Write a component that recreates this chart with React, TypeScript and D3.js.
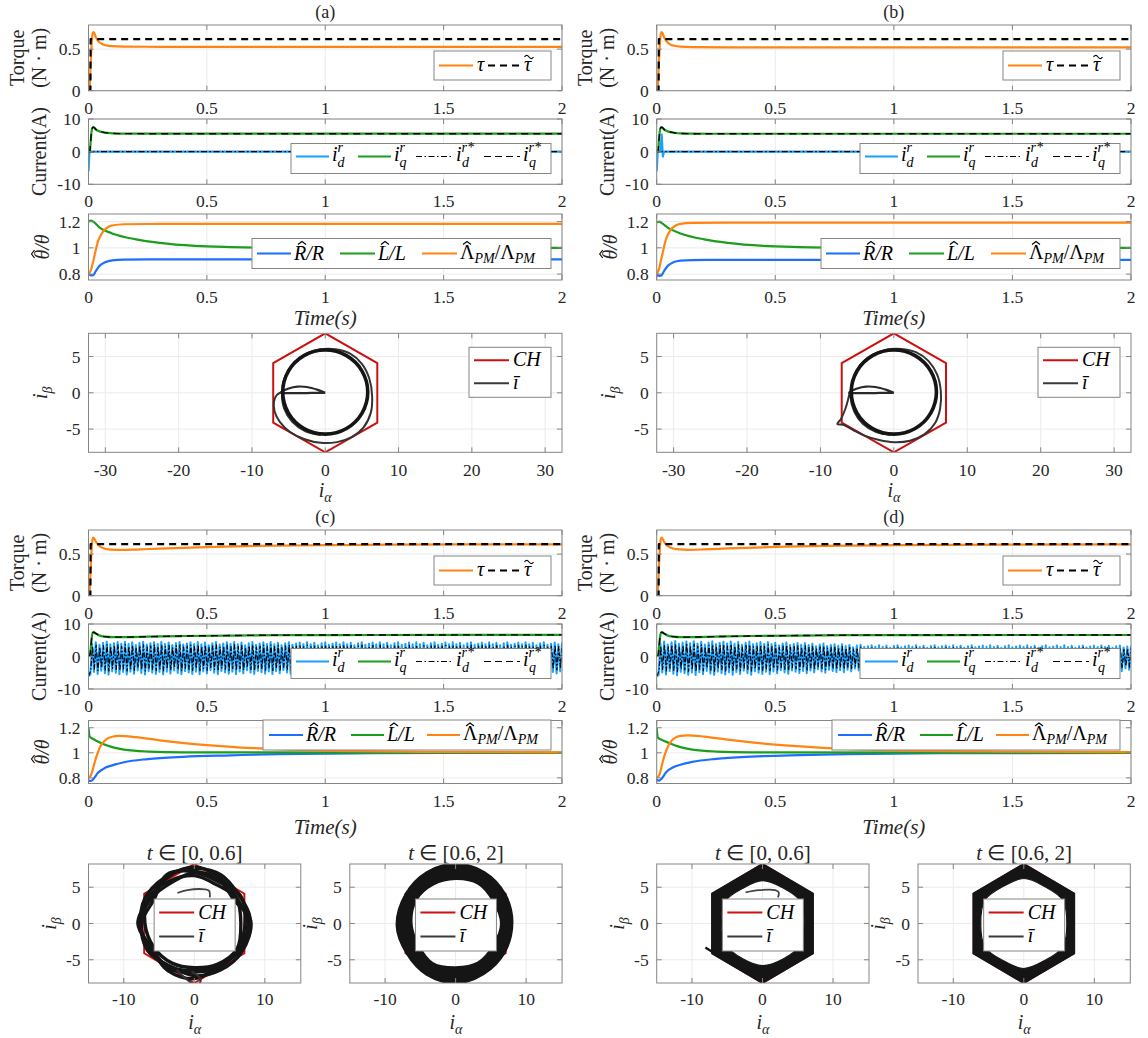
import React from 'react';
import * as d3 from 'd3';

type P = [number, number];

// ---------------- ticks / labels ----------------
const timeTicks = [0, 0.5, 1, 1.5, 2];
const torqueTicks = [0, 0.5];
const currentTicks = [-10, 0, 10];
const thetaTicks = [0.8, 1, 1.2];
const bigXTicks = [-30, -20, -10, 0, 10, 20, 30];
const trajYTicks = [-5, 0, 5];
const smallXTicks = [-10, 0, 10];
const panelLabels = ['(a)', '(b)', '(c)', '(d)'];
const smallTitles = ['[0, 0.6]', '[0.6, 2]'];

// ---------------- domains ----------------
const timeDomain: P = [0, 2];
const torqueDomain: P = [0, 0.79];
const currentDomain: P = [-10, 10];
const thetaDomain: P = [0.755, 1.258];
const bigXDomain: P = [-32.3, 32.3];
const trajYDomain: P = [-8.2, 8.2];
const smallXDomain: P = [-15, 15.1];

// ---------------- torque ----------------
const tauA: P[] = [[0, 0], [0.004, 0.02], [0.008, 0.25], [0.012, 0.5], [0.016, 0.66], [0.02, 0.705], [0.025, 0.69], [0.03, 0.65], [0.04, 0.6], [0.055, 0.565], [0.075, 0.545], [0.1, 0.535], [0.15, 0.53], [0.3, 0.528], [1, 0.528], [2, 0.528]];
const tauB: P[] = [[0, 0], [0.004, 0.02], [0.008, 0.25], [0.012, 0.5], [0.016, 0.66], [0.02, 0.705], [0.025, 0.69], [0.03, 0.65], [0.04, 0.6], [0.055, 0.56], [0.075, 0.54], [0.1, 0.53], [0.15, 0.525], [0.3, 0.522], [1, 0.522], [2, 0.522]];
const tauC: P[] = [[0, 0], [0.004, 0.02], [0.008, 0.25], [0.012, 0.5], [0.016, 0.66], [0.02, 0.7], [0.025, 0.685], [0.03, 0.655], [0.045, 0.6], [0.07, 0.565], [0.1, 0.553], [0.14, 0.55], [0.2, 0.555], [0.3, 0.567], [0.5, 0.585], [0.7, 0.598], [1, 0.608], [1.3, 0.614], [1.6, 0.617], [2, 0.618]];
const tauD: P[] = [[0, 0], [0.004, 0.02], [0.008, 0.25], [0.012, 0.5], [0.016, 0.66], [0.02, 0.7], [0.025, 0.685], [0.03, 0.655], [0.045, 0.6], [0.07, 0.567], [0.1, 0.556], [0.13, 0.552], [0.2, 0.557], [0.3, 0.568], [0.5, 0.586], [0.7, 0.598], [1, 0.607], [1.5, 0.614], [2, 0.617]];
const tauRefA: P[] = [[0, 0], [0.008, 0], [0.009, 0.62], [2, 0.62]];
const tauRefB: P[] = [[0, 0], [0.008, 0], [0.009, 0.62], [2, 0.62]];
const tauRefC: P[] = [[0, 0], [0.008, 0], [0.009, 0.62], [2, 0.62]];
const tauRefD: P[] = [[0, 0], [0.008, 0], [0.009, 0.62], [2, 0.62]];

// ---------------- currents ----------------
const idA: P[] = [[0, -6], [0.002, -3], [0.004, -0.3], [0.006, 0], [2, 0]];
const idB: P[] = [[0, -6], [0.002, -3], [0.004, 0], [0.015, 0], [0.018, 2], [0.021, 5.2], [0.024, 1], [0.026, -1.5], [0.029, -0.5], [0.032, 0], [2, 0]];
const idRefA: P[] = [[0, 0], [2, 0]];
const idRefB: P[] = [[0, 0], [2, 0]];
const iqA: P[] = [[0, 0], [0.006, 0], [0.008, 2], [0.012, 5.5], [0.016, 7.2], [0.02, 7.5], [0.025, 7.3], [0.03, 6.9], [0.04, 6.4], [0.06, 6], [0.08, 5.75], [0.1, 5.6], [0.15, 5.52], [0.3, 5.5], [2, 5.5]];
const iqRefA: P[] = [[0, 0], [0.006, 0], [0.008, 2], [0.012, 5.5], [0.016, 7.2], [0.02, 7.5], [0.025, 7.3], [0.03, 6.9], [0.04, 6.4], [0.06, 6], [0.08, 5.75], [0.1, 5.6], [0.15, 5.52], [0.3, 5.5], [2, 5.5]];
const iqB: P[] = [[0, 0], [0.006, 0], [0.008, 2], [0.012, 5.5], [0.016, 7.2], [0.02, 7.5], [0.025, 7.3], [0.03, 6.9], [0.04, 6.4], [0.06, 6], [0.08, 5.72], [0.1, 5.58], [0.15, 5.5], [0.3, 5.48], [2, 5.48]];
const iqRefB: P[] = [[0, 0], [0.006, 0], [0.008, 2], [0.012, 5.5], [0.016, 7.2], [0.02, 7.5], [0.025, 7.3], [0.03, 6.9], [0.04, 6.4], [0.06, 6], [0.08, 5.72], [0.1, 5.58], [0.15, 5.5], [0.3, 5.48], [2, 5.48]];
const iqC: P[] = [[0, 0], [0.006, 0.5], [0.01, 3], [0.014, 6], [0.018, 7.3], [0.022, 7.5], [0.03, 7.1], [0.045, 6.5], [0.07, 6.1], [0.1, 5.95], [0.15, 5.95], [0.25, 6.1], [0.4, 6.3], [0.6, 6.45], [0.8, 6.55], [1.2, 6.62], [2, 6.65]];
const iqRefC: P[] = [[0, 0], [0.006, 0.5], [0.01, 3], [0.014, 6], [0.018, 7.3], [0.022, 7.5], [0.03, 7.1], [0.045, 6.5], [0.07, 6.1], [0.1, 5.95], [0.15, 5.95], [0.25, 6.1], [0.4, 6.3], [0.6, 6.45], [0.8, 6.55], [1.2, 6.62], [2, 6.65]];
const iqD: P[] = [[0, 0], [0.006, 0.5], [0.01, 3], [0.014, 6], [0.018, 7.3], [0.022, 7.5], [0.03, 7.1], [0.045, 6.5], [0.07, 6.1], [0.1, 5.95], [0.15, 5.97], [0.25, 6.12], [0.4, 6.3], [0.6, 6.45], [0.8, 6.55], [1.2, 6.6], [2, 6.62]];
const iqRefD: P[] = [[0, 0], [0.006, 0.5], [0.01, 3], [0.014, 6], [0.018, 7.3], [0.022, 7.5], [0.03, 7.1], [0.045, 6.5], [0.07, 6.1], [0.1, 5.95], [0.15, 5.97], [0.25, 6.12], [0.4, 6.3], [0.6, 6.45], [0.8, 6.55], [1.2, 6.6], [2, 6.62]];
// oscillating i_d envelopes (c), (d)
const idUpperC: P[] = [[0, -6], [0.006, 4.6], [0.3, 4.5], [1, 4.4], [2, 4.4]];
const idLowerC: P[] = [[0, -6], [0.006, -5.6], [0.3, -5.5], [1, -5.3], [2, -5.3]];
const idUpperD: P[] = [[0, -6], [0.006, 4.8], [0.4, 4.6], [0.7, 4], [0.9, 3.5], [2, 3.4]];
const idLowerD: P[] = [[0, -6], [0.006, -5.8], [0.4, -5.6], [0.7, -5], [0.9, -4.6], [2, -4.5]];
const idCyclesC = 130;
const idCyclesD = 128;
const idPeakPattern = [1, 0.85, 0.96, 0.78, 0.92, 1, 0.82, 0.9, 0.98, 0.86];

// ---------------- parameter estimates ----------------
const rA: P[] = [[0, 0.8], [0.01, 0.79], [0.02, 0.792], [0.03, 0.82], [0.045, 0.86], [0.07, 0.89], [0.1, 0.905], [0.15, 0.91], [0.3, 0.912], [2, 0.912]];
const lA: P[] = [[0, 1.2], [0.01, 1.207], [0.02, 1.2], [0.05, 1.15], [0.1, 1.11], [0.2, 1.065], [0.3, 1.038], [0.45, 1.015], [0.6, 1.006], [0.8, 1.001], [2, 1.0]];
const lamA: P[] = [[0, 0.8], [0.01, 0.83], [0.02, 0.9], [0.04, 1.05], [0.06, 1.12], [0.08, 1.155], [0.1, 1.17], [0.15, 1.18], [0.3, 1.182], [2, 1.182]];
const rB: P[] = [[0, 0.795], [0.01, 0.787], [0.02, 0.79], [0.03, 0.82], [0.045, 0.86], [0.07, 0.89], [0.1, 0.903], [0.15, 0.907], [0.3, 0.908], [2, 0.908]];
const lB: P[] = [[0, 1.195], [0.01, 1.2], [0.02, 1.19], [0.05, 1.15], [0.1, 1.11], [0.2, 1.065], [0.3, 1.038], [0.45, 1.015], [0.6, 1.006], [0.8, 1.001], [2, 1.0]];
const lamB: P[] = [[0, 0.8], [0.01, 0.84], [0.02, 0.92], [0.04, 1.07], [0.06, 1.14], [0.08, 1.17], [0.1, 1.183], [0.15, 1.19], [0.3, 1.192], [2, 1.192]];
const rC: P[] = [[0, 0.78], [0.01, 0.775], [0.02, 0.79], [0.04, 0.84], [0.07, 0.88], [0.1, 0.9], [0.15, 0.925], [0.25, 0.95], [0.4, 0.968], [0.6, 0.98], [0.8, 0.99], [1.2, 0.997], [2, 1.0]];
const lC: P[] = [[0, 1.2], [0.005, 1.13], [0.02, 1.11], [0.05, 1.08], [0.1, 1.045], [0.15, 1.025], [0.25, 1.01], [0.4, 1.004], [2, 1.0]];
const lamC: P[] = [[0, 0.8], [0.01, 0.82], [0.03, 0.95], [0.05, 1.05], [0.07, 1.1], [0.1, 1.128], [0.13, 1.135], [0.2, 1.125], [0.3, 1.1], [0.5, 1.062], [0.7, 1.037], [1, 1.017], [1.5, 1.007], [2, 1.003]];
const rD: P[] = [[0, 0.785], [0.01, 0.778], [0.02, 0.792], [0.04, 0.845], [0.07, 0.885], [0.1, 0.905], [0.15, 0.928], [0.25, 0.952], [0.4, 0.97], [0.6, 0.982], [0.8, 0.99], [1.2, 0.997], [2, 1.0]];
const lD: P[] = [[0, 1.2], [0.005, 1.12], [0.02, 1.105], [0.05, 1.08], [0.1, 1.045], [0.15, 1.025], [0.25, 1.01], [0.4, 1.004], [2, 1.0]];
const lamD: P[] = [[0, 0.8], [0.01, 0.82], [0.03, 0.96], [0.05, 1.06], [0.07, 1.11], [0.1, 1.135], [0.13, 1.14], [0.2, 1.13], [0.3, 1.105], [0.5, 1.065], [0.7, 1.04], [1, 1.02], [1.5, 1.01], [2, 1.005]];

// ---------------- αβ trajectories ----------------
const hexCH: P[] = [[0, 8.2], [7.1, 4.1], [7.1, -4.1], [0, -8.2], [-7.1, -4.1], [-7.1, 4.1]];
const petalA: P[] = [[0, 0], [-1, 0.4], [-2.5, 0.8], [-3.8, 0.85], [-5, 0.6], [-5.8, 0.25], [-6.1, 0], [-5, -0.05], [-3, -0.05], [-1, 0], [0, 0]];
const loopA: P[] = [[-6, 0.1], [-6.6, -0.3], [-7, -1.2], [-6.9, -2.6], [-6.2, -4], [-4.8, -5.4], [-2.8, -6.4], [-0.6, -6.9], [1.6, -6.8], [3.6, -6.1], [5.2, -4.8], [6.2, -2.8], [6.4, -0.5], [6, 2], [5, 4], [3.4, 5.4], [1.4, 6], [-0.6, 6], [-2.6, 5.4], [-4.3, 4.1], [-5.5, 2.2], [-5.9, 0], [-5.6, -2.2], [-4.5, -4], [-2.7, -5.3], [-0.6, -5.8]];
const petalB: P[] = [[0, 0], [-1, 0.4], [-2.5, 0.8], [-3.8, 0.85], [-5, 0.6], [-5.8, 0.25], [-6.1, 0], [-5, -0.05], [-3, -0.05], [-1, 0], [0, 0]];
const loopB: P[] = [[-6, 0.1], [-6.2, -0.8], [-6.6, -2.2], [-7.2, -3.6], [-7.7, -4.3], [-6.9, -4.4], [-5.6, -5.1], [-4, -5.9], [-2, -6.5], [0, -6.8], [2.2, -6.6], [4.2, -5.7], [5.6, -4.2], [6.3, -2.2], [6.4, 0.2], [5.9, 2.5], [4.7, 4.4], [3, 5.6], [1, 6.05], [-1, 5.95], [-3, 5.2], [-4.6, 3.8], [-5.6, 1.8], [-5.9, -0.4], [-5.4, -2.6], [-4.2, -4.3], [-2.4, -5.4], [-0.4, -5.8]];
const circleA: P[] = [[5.8, 0.1], [5.02, 3.0], [2.9, 5.12], [0, 5.9], [-2.9, 5.12], [-5.02, 3.0], [-5.8, 0.1], [-5.02, -2.8], [-2.9, -4.92], [0, -5.7], [2.9, -4.92], [5.02, -2.8]];
const circleB: P[] = [[5.8, 0.1], [5.02, 3.0], [2.9, 5.12], [0, 5.9], [-2.9, 5.12], [-5.02, 3.0], [-5.8, 0.1], [-5.02, -2.8], [-2.9, -4.92], [0, -5.7], [2.9, -4.92], [5.02, -2.8]];
// (c) t in [0,0.6]
const loopsC1: P[][] = [
  [[7.6, 0], [6.06, 3.5], [3.65, 6.32], [0, 7.8], [-3.7, 6.41], [-6.24, 3.6], [-8, 0], [-6.06, -3.5], [-3.75, -6.5], [0, -7.6], [3.45, -5.98], [6.32, -3.65]],
  [[6.6, 0], [5.98, 3.45], [3.1, 5.37], [0, 6.6], [-3.4, 5.89], [-6.41, 3.7], [-7, 0], [-5.72, -3.3], [-3.15, -5.46], [0, -6.1], [3.25, -5.63], [6.06, -3.5]],
  [[8, 0.4], [5.63, 3.25], [3.5, 6.06], [0, 7.2], [-3.9, 6.75], [-5.72, 3.3], [-7.5, 0], [-6.58, -3.8], [-3.4, -5.89], [0, -7.2], [3.7, -6.41], [6.75, -3.9]],
  [[7.2, 0], [6.58, 3.8], [3.35, 5.8], [0, 7], [-3.25, 5.63], [-6.06, 3.5], [-7.8, -0.2], [-5.98, -3.45], [-3.6, -6.24], [0, -6.7], [3.5, -6.06], [6.15, -3.55]],
  [[7.9, 0.8], [6.2, 4.1], [3.8, 6.7], [0.5, 7.6], [-3.2, 6.9], [-6.7, 4.0], [-7.6, 1], [-6.8, -3], [-4.2, -5.6], [-0.6, -6.5], [3.9, -5.6], [6.9, -3.2]],
];
const spurC1: P[] = [[-2.5, -6.4], [-1.2, -7.6], [0.4, -8.6], [0.9, -7.7], [-0.4, -6.6]];
const innerC1: P[] = [[-2.4, 4.2], [-1, 4.6], [1.5, 4.7], [2.1, 4.5], [2.2, 3.6]];
// (c) t in [0.6,2] ring
const ringOuterC2: P[] = [[8.1, 0.2], [7.1, 4.0], [4.1, 7.1], [0, 8.3], [-4.1, 7.1], [-7.1, 4.1], [-8.4, -0.3], [-7.0, -4.1], [-4.1, -7.1], [0, -8.3], [4.0, -7.0], [7.0, -4.0]];
const ringInnerC2: P[] = [[6.4, 0], [5.3, 3.05], [3.15, 5.46], [0, 6.1], [-3.1, 5.37], [-5.54, 3.2], [-6.2, 0], [-5.2, -3.0], [-3.15, -5.46], [0, -6.0], [3.1, -5.37], [5.28, -3.05]];
// (d) hexagonal bands
const bandOuterD: P[] = [[0, 8.25], [7.2, 4.15], [7.2, -4.15], [0, -8.25], [-7.2, -4.15], [-7.2, 4.15]];
const bandInnerD1: P[] = [[5.9, 0], [5.37, 3.1], [2.85, 4.94], [0, 5.9], [-2.8, 4.85], [-5.28, 3.05], [-5.8, 0], [-5.2, -3.0], [-2.8, -4.85], [0, -5.8], [2.85, -4.94], [5.28, -3.05]];
const bandInnerD2: P[] = [[6.1, 0], [5.54, 3.2], [2.95, 5.11], [0, 6.2], [-2.95, 5.11], [-5.54, 3.2], [-6.1, 0], [-5.54, -3.2], [-2.95, -5.11], [0, -6.2], [2.95, -5.11], [5.54, -3.2]];
const tailD1: P[] = [[-8.1, -3.3], [-7.3, -3.8], [-6.4, -4.4]];
const innerD1: P[] = [[-2.4, 4.3], [-0.5, 4.6], [1.8, 4.6], [2.3, 4.3], [2.2, 3.6]];

// ---------------- styling ----------------
const FONT = "'Liberation Serif', Tinos, 'Times New Roman', serif";
const AXC = '#858585';
const GRIDC = '#ebebeb';
const TXT = '#262626';
const ORANGE = '#ff8412';
const GREEN = '#1b9e1b';
const LBLUE = '#1aa0ff';
const BLUE = '#1f6fff';
const RED = '#cc1010';
const DARK = '#151515';

function Frame({ box, xd, yd, xt, yt, id, render, tickY = 23 }: any) {
  const xs = d3.scaleLinear().domain(xd).range([box.x0, box.x1]);
  const ys = d3.scaleLinear().domain(yd).range([box.y1, box.y0]);
  const tl = 5;
  return (
    <g>
      <rect x={box.x0} y={box.y0} width={box.x1 - box.x0} height={box.y1 - box.y0} fill="#fff" />
      {xt.map((t: number) => <line key={'gx' + t} x1={xs(t)} x2={xs(t)} y1={box.y0} y2={box.y1} stroke={GRIDC} strokeWidth={1} />)}
      {yt.map((t: number) => <line key={'gy' + t} x1={box.x0} x2={box.x1} y1={ys(t)} y2={ys(t)} stroke={GRIDC} strokeWidth={1} />)}
      <clipPath id={id}><rect x={box.x0} y={box.y0} width={box.x1 - box.x0} height={box.y1 - box.y0} /></clipPath>
      <g clipPath={`url(#${id})`}>{render(xs, ys)}</g>
      <rect x={box.x0} y={box.y0} width={box.x1 - box.x0} height={box.y1 - box.y0} fill="none" stroke={AXC} strokeWidth={1} />
      {xt.map((t: number) => (
        <g key={'tx' + t}>
          <line x1={xs(t)} x2={xs(t)} y1={box.y1} y2={box.y1 - tl} stroke={AXC} />
          <line x1={xs(t)} x2={xs(t)} y1={box.y0} y2={box.y0 + tl} stroke={AXC} />
          <text x={xs(t)} y={box.y1 + tickY} textAnchor="middle" fontSize={17.5} fill={TXT}>{String(t)}</text>
        </g>
      ))}
      {yt.map((t: number) => (
        <g key={'ty' + t}>
          <line x1={box.x0} x2={box.x0 + tl} y1={ys(t)} y2={ys(t)} stroke={AXC} />
          <line x1={box.x1} x2={box.x1 - tl} y1={ys(t)} y2={ys(t)} stroke={AXC} />
          <text x={box.x0 - 8} y={ys(t) + 6} textAnchor="end" fontSize={17.5} fill={TXT}>{String(t)}</text>
        </g>
      ))}
    </g>
  );
}

function Series({ data, xs, ys, color, w = 2, dash, curve = d3.curveMonotoneX, op = 1 }: any) {
  const gen = d3.line<P>().x((d) => xs(d[0])).y((d) => ys(d[1])).curve(curve);
  return <path d={gen(data) || ''} fill="none" stroke={color} strokeWidth={w} strokeDasharray={dash} strokeLinejoin="round" strokeOpacity={op} />;
}

function zigzag(upper: P[], lower: P[], cycles: number, scale: number, phase: number): P[] {
  const up = d3.scaleLinear().domain(upper.map((d) => d[0])).range(upper.map((d) => d[1]));
  const lo = d3.scaleLinear().domain(lower.map((d) => d[0])).range(lower.map((d) => d[1]));
  const n = cycles * 2;
  const out: P[] = [[0, -6]];
  for (let k = 1; k <= n; k++) {
    const t = Math.min(2, ((k + phase) * 2) / n);
    const f = idPeakPattern[(k >> 1) % idPeakPattern.length];
    out.push([t, (k % 2 === 0 ? up(t) : lo(t)) * scale * f]);
  }
  return out;
}

function Hat({ cx, y, s = 4 }: any) {
  return <path d={`M${cx - s},${y + 3} L${cx},${y} L${cx + s},${y + 3}`} fill="none" stroke="#000" strokeWidth={1.1} />;
}
function Tilde({ cx, y }: any) {
  return <path d={`M${cx - 4.5},${y + 1.5} q2.2,-3.2 4.5,0 t4.5,0`} fill="none" stroke="#000" strokeWidth={1.1} />;
}

function ISym({ x, y, sub, sup, supW = 6, size = 20 }: any) {
  const s = size * 0.7;
  return (
    <text x={x} y={y} fontSize={size} fontStyle="italic" fill="#000">
      i
      {sup ? <tspan fontSize={s} dy={-size * 0.42}>{sup}</tspan> : null}
      {sub ? <tspan fontSize={s} dx={sup ? -supW : 0} dy={sup ? size * 0.72 : size * 0.3}>{sub}</tspan> : null}
    </text>
  );
}

function LBox({ x, y, w, h }: any) {
  return <rect x={x} y={y} width={w} height={h} fill="#fff" stroke={AXC} strokeWidth={1} />;
}

function TorqueLegend({ right, top }: any) {
  const x = right - 117, y = top, cy = y + 14.5;
  return (
    <g>
      <LBox x={x} y={y} w={117} h={29} />
      <line x1={x + 5} x2={x + 39} y1={cy} y2={cy} stroke={ORANGE} strokeWidth={2} />
      <text x={x + 43} y={cy + 5} fontSize={20} fontStyle="italic">τ</text>
      <line x1={x + 54} x2={x + 85} y1={cy} y2={cy} stroke="#000" strokeWidth={2} strokeDasharray="7 5" />
      <text x={x + 90} y={cy + 5} fontSize={20} fontStyle="italic">τ</text>
      <Tilde cx={x + 95} y={cy - 10} />
    </g>
  );
}

function CurrentLegend({ right, top }: any) {
  const x = right - 260, y = top, cy = y + 13;
  return (
    <g>
      <LBox x={x} y={y} w={260} h={30} />
      <line x1={x + 5} x2={x + 38} y1={cy} y2={cy} stroke={LBLUE} strokeWidth={2} />
      <ISym x={x + 41} y={cy + 4} sup="r" sub="d" supW={5} />
      <line x1={x + 67} x2={x + 100} y1={cy} y2={cy} stroke={GREEN} strokeWidth={2} />
      <ISym x={x + 103} y={cy + 4} sup="r" sub="q" supW={5} />
      <line x1={x + 125} x2={x + 162} y1={cy} y2={cy} stroke="#000" strokeWidth={1.2} strokeDasharray="6 2.5 1.5 2.5" />
      <ISym x={x + 165} y={cy + 4} sup="r*" sub="d" supW={12} />
      <line x1={x + 193} x2={x + 229} y1={cy} y2={cy} stroke="#000" strokeWidth={1.2} strokeDasharray="7 4" />
      <ISym x={x + 232} y={cy + 4} sup="r*" sub="q" supW={12} />
    </g>
  );
}

function LamText({ x, y }: any) {
  return (
    <g>
      <text x={x} y={y} fontSize={20} fill="#000">
        Λ<tspan fontSize={14} fontStyle="italic" dy={4}>PM</tspan><tspan dy={-4}>/Λ</tspan><tspan fontSize={14} fontStyle="italic" dy={4}>PM</tspan>
      </text>
      <Hat cx={x + 7} y={y - 17} />
    </g>
  );
}

function ThetaLegend({ right, top, wide }: any) {
  const w = wide ? 299 : 288;
  const x = right - w, y = top, cy = y + 15;
  const g = wide ? [5, 39, 42, 88, 123, 126, 170, 205, 208] : [6, 40, 43, 88, 121, 124, 164, 197, 200];
  return (
    <g>
      <LBox x={x} y={y} w={w} h={30} />
      <line x1={x + g[0]} x2={x + g[1]} y1={cy} y2={cy} stroke={BLUE} strokeWidth={2} />
      <text x={x + g[2]} y={cy + 6} fontSize={20} fontStyle="italic">R/R</text>
      <Hat cx={x + g[2] + 8} y={cy - 12} />
      <line x1={x + g[3]} x2={x + g[4]} y1={cy} y2={cy} stroke={GREEN} strokeWidth={2} />
      <text x={x + g[5]} y={cy + 6} fontSize={20} fontStyle="italic">L/L</text>
      <Hat cx={x + g[5] + 7} y={cy - 12} />
      <line x1={x + g[6]} x2={x + g[7]} y1={cy} y2={cy} stroke={ORANGE} strokeWidth={2} />
      <LamText x={x + g[8]} y={cy + 5} />
    </g>
  );
}

function TrajLegend({ x, y, w, h }: any) {
  const r1 = y + h * 0.26, r2 = y + h * 0.72;
  return (
    <g>
      <LBox x={x} y={y} w={w} h={h} />
      <line x1={x + 5} x2={x + 40} y1={r1} y2={r1} stroke={RED} strokeWidth={2} />
      <text x={x + 44} y={r1 + 6} fontSize={20} fontStyle="italic">CH</text>
      <line x1={x + 5} x2={x + 40} y1={r2} y2={r2} stroke="#3a3a3a" strokeWidth={2} />
      <text x={x + 44} y={r2 + 6} fontSize={20} fontStyle="italic">ī</text>
    </g>
  );
}

function RotLabel({ x, y, children }: any) {
  return <g transform={`translate(${x},${y}) rotate(-90)`}>{children}</g>;
}

function YLabels({ x0, rows }: any) {
  const tq = (rows.tq[0] + rows.tq[1]) / 2;
  const cu = (rows.cu[0] + rows.cu[1]) / 2;
  const th = (rows.th[0] + rows.th[1]) / 2;
  return (
    <g fill={TXT}>
      <RotLabel x={x0 - 65} y={tq}><text textAnchor="middle" fontSize={20} fill={TXT}>Torque</text></RotLabel>
      <RotLabel x={x0 - 43} y={tq}><text textAnchor="middle" fontSize={20} fill={TXT}>(N · m)</text></RotLabel>
      <RotLabel x={x0 - 43} y={cu}><text textAnchor="middle" fontSize={20} fill={TXT}>Current(A)</text></RotLabel>
      <RotLabel x={x0 - 40} y={th}>
        <text textAnchor="middle" fontSize={20} fontStyle="italic" fill={TXT}>θ/θ</text>
        <Hat cx={-7} y={-17} />
      </RotLabel>
    </g>
  );
}

function IAB({ x, y, sub, rotate }: any) {
  const t = (
    <text textAnchor="middle" fontSize={20} fontStyle="italic" fill={TXT}>
      i<tspan fontSize={14} dy={5}>{sub}</tspan>
    </text>
  );
  return rotate ? <RotLabel x={x} y={y}>{t}</RotLabel> : <g transform={`translate(${x},${y})`}>{t}</g>;
}

const lineCR = d3.curveCatmullRom.alpha(0.5);
const lineCRC = d3.curveCatmullRomClosed.alpha(0.5);

function trajPath(xs: any, ys: any, pts: P[], closed: boolean, curve?: any) {
  const gen = d3.line<P>().x((d) => xs(d[0])).y((d) => ys(d[1])).curve(curve || (closed ? lineCRC : lineCR));
  return gen(pts) || '';
}

const COLX = [[88.5, 562], [656.7, 1131]];
const HALF = [
  { title: 18, tq: [25, 90.7], cu: [119, 184.3], th: [214, 280], time: 325, traj: [333.3, 452.3], thLegTop: 24.5 },
  { title: 523, tq: [530, 595.7], cu: [624, 689], th: [720.5, 783.5], time: 834, traj: [864, 983], thLegTop: -0.5 },
];

const panelData = [
  { tau: tauA, tauRef: tauRefA, id: idA, idRef: idRefA, iq: iqA, iqRef: iqRefA, R: rA, L: lA, Lam: lamA },
  { tau: tauB, tauRef: tauRefB, id: idB, idRef: idRefB, iq: iqB, iqRef: iqRefB, R: rB, L: lB, Lam: lamB },
  { tau: tauC, tauRef: tauRefC, up: idUpperC, lo: idLowerC, cyc: idCyclesC, iq: iqC, iqRef: iqRefC, R: rC, L: lC, Lam: lamC },
  { tau: tauD, tauRef: tauRefD, up: idUpperD, lo: idLowerD, cyc: idCyclesD, iq: iqD, iqRef: iqRefD, R: rD, L: lD, Lam: lamD },
];

function TimePanels({ idx }: any) {
  const d: any = panelData[idx];
  const col = COLX[idx % 2];
  const h = HALF[idx < 2 ? 0 : 1];
  const bx = (r: number[]) => ({ x0: col[0], x1: col[1], y0: r[0], y1: r[1] });
  const cx = (col[0] + col[1]) / 2;
  const right = col[1] - 11;
  return (
    <g>
      <text x={cx} y={h.title} textAnchor="middle" fontSize={18} fill={TXT}>{panelLabels[idx]}</text>
      <Frame box={bx(h.tq)} xd={timeDomain} yd={torqueDomain} xt={timeTicks} yt={torqueTicks} id={`tq${idx}`}
        render={(xs: any, ys: any) => (
          <g>
            <Series data={d.tau} xs={xs} ys={ys} color={ORANGE} w={2.2} />
            <Series data={d.tauRef} xs={xs} ys={ys} color="#000" w={2.2} dash="7 5" curve={d3.curveLinear} />
          </g>
        )} />
      <TorqueLegend right={right} top={h.tq[0] + 26} />
      <Frame box={bx(h.cu)} xd={timeDomain} yd={currentDomain} xt={timeTicks} yt={currentTicks} id={`cu${idx}`}
        render={(xs: any, ys: any) => (
          <g>
            {d.up ? (
              <g>
                <Series data={zigzag(d.up, d.lo, d.cyc, 1, 0)} xs={xs} ys={ys} color={LBLUE} w={2} curve={d3.curveLinear} />
                <Series data={zigzag(d.up, d.lo, d.cyc, 0.8, 0.2)} xs={xs} ys={ys} color="#000" w={1.2} dash="5 2 1.5 2" curve={d3.curveLinear} />
              </g>
            ) : (
              <g>
                <Series data={d.id} xs={xs} ys={ys} color={LBLUE} w={2.2} curve={d3.curveLinear} />
                <Series data={d.idRef} xs={xs} ys={ys} color="#000" w={1.3} dash="6 2.5 1.5 2.5" curve={d3.curveLinear} />
              </g>
            )}
            <Series data={d.iq} xs={xs} ys={ys} color={GREEN} w={2.2} />
            <Series data={d.iqRef} xs={xs} ys={ys} color="#000" w={1.4} dash="7 5" />
          </g>
        )} />
      <CurrentLegend right={right} top={h.cu[0] + 24.5} />
      <Frame box={bx(h.th)} xd={timeDomain} yd={thetaDomain} xt={timeTicks} yt={thetaTicks} id={`th${idx}`}
        render={(xs: any, ys: any) => (
          <g>
            <Series data={d.R} xs={xs} ys={ys} color={BLUE} w={2.2} />
            <Series data={d.L} xs={xs} ys={ys} color={GREEN} w={2.2} />
            <Series data={d.Lam} xs={xs} ys={ys} color={ORANGE} w={2.2} />
          </g>
        )} />
      <ThetaLegend right={right} top={h.th[0] + h.thLegTop} wide={idx < 2} />
      <text x={cx} y={h.time} textAnchor="middle" fontSize={21} fontStyle="italic" fill={TXT}>Time(s)</text>
      <YLabels x0={col[0]} rows={h} />
    </g>
  );
}

function BigTraj({ idx }: any) {
  const col = COLX[idx];
  const h = HALF[0];
  const box = { x0: col[0], x1: col[1], y0: h.traj[0], y1: h.traj[1] };
  const petal = idx === 0 ? petalA : petalB;
  const loop = idx === 0 ? loopA : loopB;
  const circ = idx === 0 ? circleA : circleB;
  return (
    <g>
      <Frame box={box} xd={bigXDomain} yd={trajYDomain} xt={bigXTicks} yt={trajYTicks} id={`bt${idx}`} tickY={24}
        render={(xs: any, ys: any) => (
          <g>
            <path d={trajPath(xs, ys, hexCH, true, d3.curveLinearClosed)} fill="none" stroke={RED} strokeWidth={2} />
            <path d={trajPath(xs, ys, petal, false)} fill="none" stroke="#2a2a2a" strokeWidth={2.2} />
            <path d={trajPath(xs, ys, loop, false)} fill="none" stroke="#333" strokeWidth={2} />
            <path d={trajPath(xs, ys, circ, true)} fill="none" stroke={DARK} strokeWidth={3.6} />
          </g>
        )} />
      <TrajLegend x={col[1] - 11 - 82} y={h.traj[0] + 14} w={82} h={50} />
      <IAB x={(col[0] + col[1]) / 2} y={497} sub="α" />
      <IAB x={col[0] - 42} y={(h.traj[0] + h.traj[1]) / 2} sub="β" rotate />
    </g>
  );
}

function SmallTraj({ idx, k }: any) {
  const base = COLX[idx - 2][0];
  const x0 = k === 0 ? base : base + 261.3;
  const box = { x0, x1: x0 + 212.3, y0: HALF[1].traj[0], y1: HALF[1].traj[1] };
  const cx = (box.x0 + box.x1) / 2;
  return (
    <g>
      <text x={cx} y={860} textAnchor="middle" fontSize={21} fill={TXT}>
        <tspan fontStyle="italic">t</tspan> ∈ {smallTitles[k]}
      </text>
      <Frame box={box} xd={smallXDomain} yd={trajYDomain} xt={smallXTicks} yt={trajYTicks} id={`st${idx}${k}`} tickY={22}
        render={(xs: any, ys: any) => (
          <g>
            <path d={trajPath(xs, ys, hexCH, true, d3.curveLinearClosed)} fill="none" stroke={RED} strokeWidth={2} />
            {idx === 2 && k === 0 ? (
              <g>
                {loopsC1.map((lp, i) => <path key={i} d={trajPath(xs, ys, lp, true)} fill="none" stroke={DARK} strokeWidth={3.4} />)}
                <path d={trajPath(xs, ys, spurC1, false)} fill="none" stroke="#333" strokeWidth={2} />
                <path d={trajPath(xs, ys, innerC1, false)} fill="none" stroke="#444" strokeWidth={1.8} />
              </g>
            ) : null}
            {idx === 2 && k === 1 ? (
              <path d={trajPath(xs, ys, ringOuterC2, true) + trajPath(xs, ys, ringInnerC2, true)} fill={DARK} fillRule="evenodd" stroke={DARK} strokeWidth={1.5} />
            ) : null}
            {idx === 3 ? (
              <g>
                <path d={trajPath(xs, ys, bandOuterD, true, d3.curveLinearClosed) + trajPath(xs, ys, k === 0 ? bandInnerD1 : bandInnerD2, true)} fill={DARK} fillRule="evenodd" stroke={DARK} strokeWidth={1.2} />
                {k === 0 ? (
                  <g>
                    <path d={trajPath(xs, ys, tailD1, false)} fill="none" stroke={DARK} strokeWidth={2.4} />
                    <path d={trajPath(xs, ys, innerD1, false)} fill="none" stroke="#444" strokeWidth={1.8} />
                  </g>
                ) : null}
              </g>
            ) : null}
          </g>
        )} />
      <TrajLegend x={cx - 40.5} y={899} w={81} h={52} />
      <IAB x={cx} y={1029} sub="α" />
      <IAB x={x0 - 33} y={(box.y0 + box.y1) / 2} sub="β" rotate />
    </g>
  );
}

export default function App() {
  return (
    <svg width={1148} height={1038} viewBox="0 0 1148 1038" style={{ position: 'absolute', left: 0, top: 0, background: '#fff', fontFamily: FONT }} fontFamily={FONT}>
      <rect x={0} y={0} width={1148} height={1038} fill="#fff" />
      {[0, 1, 2, 3].map((i) => <TimePanels key={i} idx={i} />)}
      <BigTraj idx={0} />
      <BigTraj idx={1} />
      <SmallTraj idx={2} k={0} />
      <SmallTraj idx={2} k={1} />
      <SmallTraj idx={3} k={0} />
      <SmallTraj idx={3} k={1} />
    </svg>
  );
}
